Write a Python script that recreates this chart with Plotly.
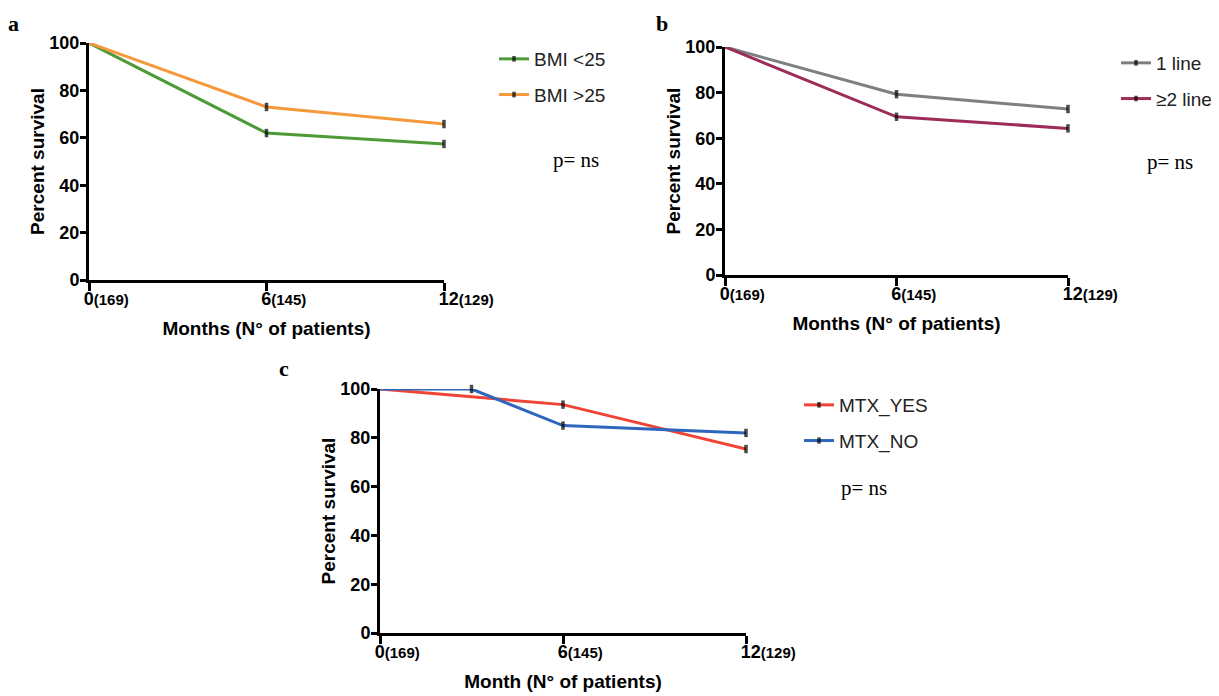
import plotly.graph_objects as go

# page has an 8px body margin; figure sized to fill the rest of the window
OFF = 8
FW, FH = 1219 - OFF, 696 - OFF

# ---- data ----
months = [0, 6, 12]
tick_main = ["0", "6", "12"]
tick_n = ["(169)", "(145)", "(129)"]

bmi_lt25 = [100, 62, 57.4]
bmi_gt25 = [100, 73, 65.8]

line1 = [100, 79.3, 72.8]
line2 = [100, 69.4, 64.3]

mtx_yes_x = [0, 6, 12]
mtx_yes = [100, 93.6, 75.4]
mtx_no_x = [0, 3, 6, 12]
mtx_no = [100, 100, 85, 82]

# marker visibility (censor ticks), first point has none
def censor_sizes(n):
    return [0] + [6] * (n - 1)

FONT = "Liberation Sans"

fig = go.Figure()

def add(xv, yv, name, color, xa, ya, legend, grp):
    fig.add_trace(go.Scatter(
        x=xv, y=yv, name=name, mode="lines+markers",
        line=dict(color=color, width=3),
        marker=dict(symbol="line-ns", size=censor_sizes(len(xv)),
                    line=dict(color="black", width=3.5), color="black"),
        xaxis=xa, yaxis=ya, legend=legend, legendgroup=grp,
        cliponaxis=False,
    ))

add(months, bmi_lt25, "BMI <25", "#4e9a38", "x", "y", "legend", "a1")
add(months, bmi_gt25, "BMI >25", "#f6993d", "x", "y", "legend", "a2")
add(months, line1, "1 line", "#7d7f80", "x2", "y2", "legend2", "b1")
add(months, line2, "≥2 line", "#9e2c58", "x2", "y2", "legend2", "b2")
add(mtx_yes_x, mtx_yes, "MTX_YES", "#f04436", "x3", "y3", "legend3", "c1")
add(mtx_no_x, mtx_no, "MTX_NO", "#2e66bd", "x3", "y3", "legend3", "c2")

def sx(p):
    return (p - OFF) / FW

def sy(p):
    return 1 - (p - OFF) / FH

def px_x(a, b):
    return [sx(a), sx(b)]

def px_y(top, bottom):
    return [sy(bottom), sy(top)]

ticktext = [f"{m}<span style='font-size:15px'>{n}</span>" for m, n in zip(tick_main, tick_n)]

def xax(domain, anchor, title):
    return dict(
        domain=domain, anchor=anchor, range=[0, 12],
        tickvals=months, ticktext=ticktext,
        ticklabelposition="outside right", ticklabelshift=-8, ticklabelstandoff=0,
        tickfont=dict(family=FONT, size=18, color="black", weight="bold"),
        ticks="outside", ticklen=8, tickwidth=2.5, tickcolor="black",
        showline=True, linewidth=3, linecolor="black",
        showgrid=False, zeroline=False, automargin=False,
        title=dict(text=title, font=dict(family=FONT, size=19, color="black", weight="bold"),
                   standoff=15),
    )

def yax(domain, anchor):
    return dict(
        domain=domain, anchor=anchor, range=[0, 100],
        tickvals=[0, 20, 40, 60, 80, 100],
        tickfont=dict(family=FONT, size=18, color="black", weight="bold"),
        ticks="outside", ticklen=6, tickwidth=2.5, tickcolor="black",
        ticklabelstandoff=-3,
        showline=True, linewidth=3, linecolor="black",
        showgrid=False, zeroline=False, automargin=False,
        title=dict(text="Percent survival", font=dict(family=FONT, size=19, color="black", weight="bold"),
                   standoff=0),
    )

leg_common = dict(font=dict(family=FONT, size=19, color="#222"), bgcolor="rgba(0,0,0,0)",
                  tracegroupgap=8, xanchor="left", yanchor="top", itemwidth=30)

fig.update_layout(
    width=FW, height=FH,
    margin=dict(l=0, r=0, t=0, b=0, autoexpand=False),
    paper_bgcolor="white", plot_bgcolor="white",
    xaxis=xax(px_x(89, 444), "y", "Months (N° of patients)"),
    yaxis=yax(px_y(43, 280), "x"),
    xaxis2=xax(px_x(725, 1068), "y2", "Months (N° of patients)"),
    yaxis2=yax(px_y(47, 275), "x2"),
    xaxis3=xax(px_x(380, 746), "y3", "Month (N° of patients)"),
    yaxis3=yax(px_y(389, 633), "x3"),
    legend=dict(x=sx(494), y=sy(40), **leg_common),
    legend2=dict(x=sx(1116), y=sy(44), **leg_common),
    legend3=dict(x=sx(799), y=sy(386), **leg_common),
    showlegend=True,
)

ann_font = dict(family="Liberation Serif", size=21, color="black")
for txt, x, y in [("p= ns", 576, 160), ("p= ns", 1170, 162), ("p= ns", 864, 488)]:
    fig.add_annotation(text=txt, x=sx(x), y=sy(y), xref="paper", yref="paper",
                       showarrow=False, font=ann_font, xanchor="center", yanchor="middle")

lab_font = dict(family="Liberation Serif", size=22, color="black", weight="bold")
for txt, x, y in [("a", 13, 23), ("b", 662, 23), ("c", 284, 368)]:
    fig.add_annotation(text=txt, x=sx(x), y=sy(y), xref="paper", yref="paper",
                       showarrow=False, font=lab_font, xanchor="center", yanchor="middle")

fig.write_html("out.html")
